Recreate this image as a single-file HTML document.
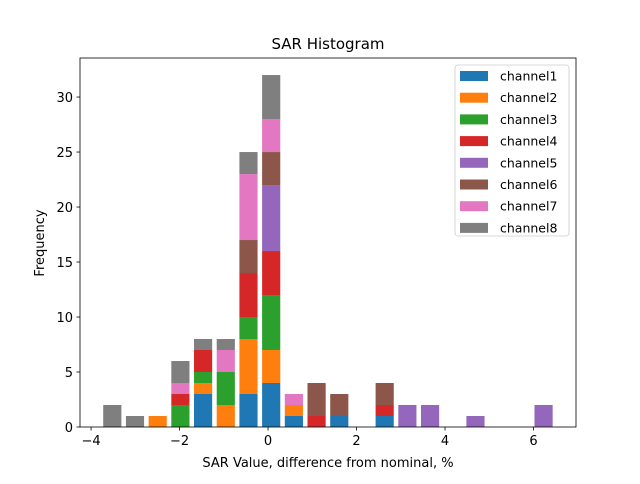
<!DOCTYPE html>
<html><head><meta charset="utf-8"><style>
body{margin:0;background:#fff;font-family:"DejaVu Sans","Liberation Sans",sans-serif;}
svg text{font-family:"DejaVu Sans","Liberation Sans",sans-serif;}
</style></head><body>
<svg id="chart" width="640" height="480">
<rect width="640" height="480" fill="#fff"/>
<text x="328" y="49" font-size="15" text-anchor="middle">SAR Histogram</text>
<g id="bars"></g>
<g id="axes"></g>
<text x="328" y="467" font-size="13" text-anchor="middle">SAR Value, difference from nominal, %</text>
<text x="44" y="243" font-size="13" text-anchor="middle" transform="rotate(-90 44 243)">Frequency</text>
<g id="legend"></g>
</svg>
<script>
const binStart = -3.52;
const binStep = 0.513;
const channels = ["channel1","channel2","channel3","channel4","channel5","channel6","channel7","channel8"];
const colors = ["#1f77b4","#ff7f0e","#2ca02c","#d62728","#9467bd","#8c564b","#e377c2","#7f7f7f"];
const ch1 = [0,0,0,0,3,0,3,4,1,0,1,0,1,0,0,0,0,0,0,0];
const ch2 = [0,0,1,0,1,2,5,3,1,0,0,0,0,0,0,0,0,0,0,0];
const ch3 = [0,0,0,2,1,3,2,5,0,0,0,0,0,0,0,0,0,0,0,0];
const ch4 = [0,0,0,1,2,0,4,4,0,1,0,0,1,0,0,0,0,0,0,0];
const ch5 = [0,0,0,0,0,0,0,6,0,0,0,0,0,2,2,0,1,0,0,2];
const ch6 = [0,0,0,0,0,0,3,3,0,3,2,0,2,0,0,0,0,0,0,0];
const ch7 = [0,0,0,1,0,2,6,3,1,0,0,0,0,0,0,0,0,0,0,0];
const ch8 = [2,1,0,2,1,1,2,4,0,0,0,0,0,0,0,0,0,0,0,0];
const series = [ch1,ch2,ch3,ch4,ch5,ch6,ch7,ch8];
const xTicks = [-4,-2,0,2,4,6];
const yTicks = [0,5,10,15,20,25,30];

const NS="http://www.w3.org/2000/svg";
const L=80,R=576,T=58,B=427;
const xMin=-4.25,xMax=6.96,yMax=33.55;
const xs=v=>L+(v-xMin)/(xMax-xMin)*(R-L);
const ys=v=>B-v/yMax*(B-T);
function mk(tag,attrs,parent){const e=document.createElementNS(NS,tag);for(const k in attrs)e.setAttribute(k,attrs[k]);parent.appendChild(e);return e;}
const gb=document.getElementById('bars');
const bw=binStep*0.8;
const n=ch1.length;
const base=new Array(n).fill(0);
series.forEach((s,ci)=>{
  for(let i=0;i<n;i++){
    if(!s[i])continue;
    const c=binStart+binStep*i;
    const x0=xs(c-bw/2),x1=xs(c+bw/2);
    const y0=ys(base[i]),y1=ys(base[i]+s[i]);
    const r=mk('rect',{x:x0,y:y1,width:x1-x0,height:y0-y1,fill:colors[ci]},gb);
    
    
    base[i]+=s[i];
  }
});
const ga=document.getElementById('axes');
const frame=mk('rect',{x:L,y:T,width:R-L,height:B-T,fill:'none',stroke:'#000','stroke-width':0.8},ga);


xTicks.forEach(t=>{
  const x=xs(t);
  mk('line',{x1:x,x2:x,y1:B,y2:B+3.5,stroke:'#000','stroke-width':0.8},ga);
  const tx=mk('text',{x:x,y:B+18,'font-size':13,'text-anchor':'middle'},ga);
  tx.textContent=(t<0?'\u2212'+(-t):t);
  
  
});
yTicks.forEach(t=>{
  const y=ys(t);
  mk('line',{x1:L-3.5,x2:L,y1:y,y2:y,stroke:'#000','stroke-width':0.8},ga);
  const tx=mk('text',{x:L-7,y:y+5,'font-size':13,'text-anchor':'end'},ga);
  tx.textContent=t;
  
  
});
const gl=document.getElementById('legend');
const lb=mk('rect',{x:455,y:65,width:114,height:171,rx:3,fill:'#fff','fill-opacity':0.8,stroke:'#ccc','stroke-width':0.8},gl);


channels.forEach((c,i)=>{
  const y=76+i*21.7;
  const sw=mk('rect',{x:460,y:y-5,width:28,height:10,fill:colors[i]},gl);
  
  
  const t=mk('text',{x:500,y:y+4.5,'font-size':12.5},gl);
  t.textContent=c;
  
  
});
</script>
</body></html>
